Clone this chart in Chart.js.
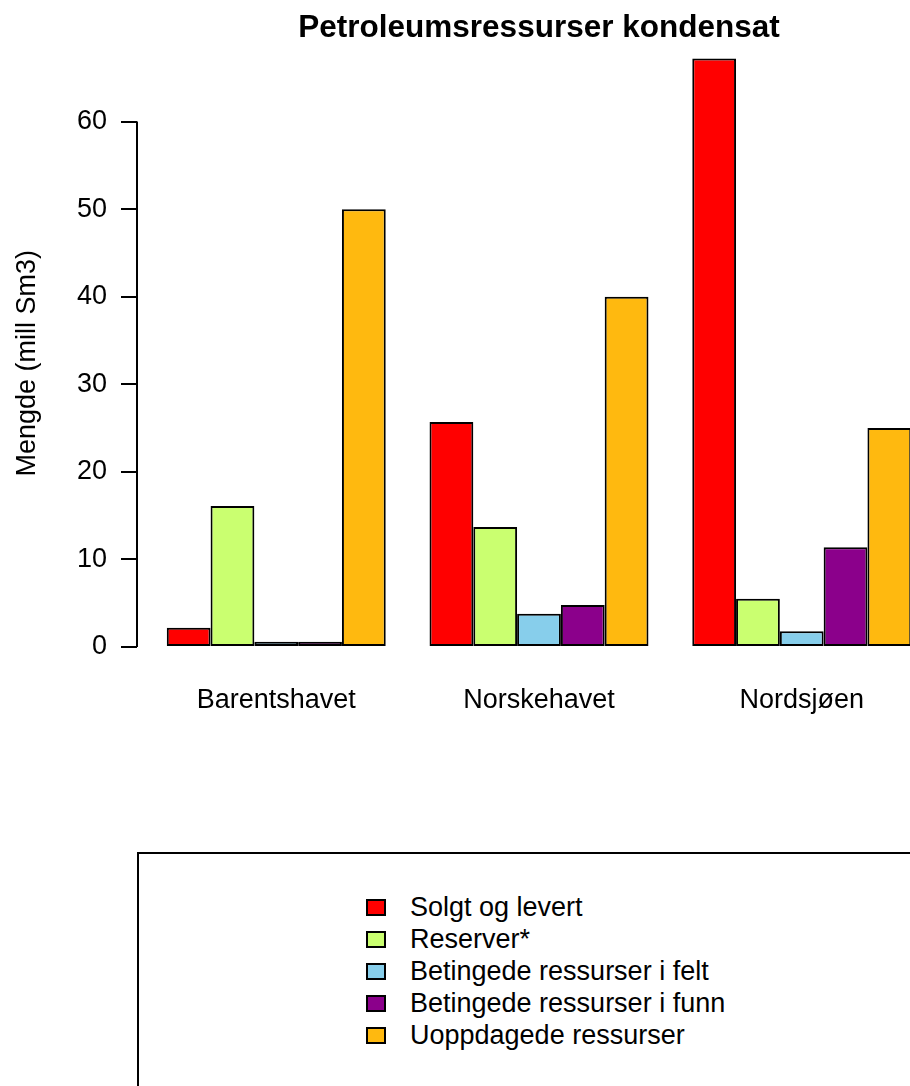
<!DOCTYPE html>
<html lang="no">
<head>
    <meta charset="UTF-8">
    <title>Petroleumsressurser kondensat</title>
    <script src="https://cdn.jsdelivr.net/npm/chart.js"></script>
    <style>
        body {
            margin: 0;
            width: 910px;
            height: 1086px;
            overflow: hidden;
            position: relative;
            background: #fff;
            font-family: "Liberation Sans", Arial, sans-serif;
        }

        /* the plot region runs past the right edge, like the original */
        #chartBox {
            position: absolute;
            left: 0;
            top: 0;
            width: 960px;
            height: 737px;
        }

        #legendBox {
            position: absolute;
            left: 137px;
            top: 852px;
            width: 900px;
            height: 300px;
            border: 2px solid #000;
            box-sizing: border-box;
        }

        #legendList {
            list-style: none;
            margin: 0;
            padding: 0;
            position: absolute;
            left: 227px;
            top: 37px;
        }

        #legendList li {
            display: flex;
            align-items: center;
            height: 32px;
            font-size: 27px;
            color: #000;
            white-space: nowrap;
        }

        #legendList .swatch {
            width: 20px;
            height: 17px;
            border: 2px solid #000;
            box-sizing: border-box;
            margin-right: 24px;
        }
    </style>
</head>
<body>

<div id="chartBox"><canvas id="chart"></canvas></div>
<div id="legendBox"><ul id="legendList"></ul></div>

<script>
    // data
    const regions = ["Barentshavet", "Norskehavet", "Nordsjøen"];
    const seriesNames = ["Solgt og levert", "Reserver*", "Betingede ressurser i felt", "Betingede ressurser i funn", "Uoppdagede ressurser"];
    const solgt = [2.2, 25.7, 67.2];
    const reserver = [16.1, 13.7, 5.5];
    const betingetFelt = [0.6, 3.8, 1.8];
    const betingetFunn = [0.6, 4.8, 11.4];
    const uoppdaget = [50, 40, 25];
    const yTicks = [0, 10, 20, 30, 40, 50, 60];

    const seriesColors = ["#FF0000", "#CAFF70", "#87CEEB", "#8B008B", "#FFB90F"];
    const font = { family: '"Liberation Sans", Arial, sans-serif', size: 27 };

    // R barplot layout: 5 bars of width 1 per group, 1 unit space before each group
    const groupCenter = i => 3.5 + 6 * i;

    const allSeries = [solgt, reserver, betingetFelt, betingetFunn, uoppdaget];
    const datasets = allSeries.map((vals, s) => ({
        label: seriesNames[s],
        data: vals.map((v, i) => ({ x: groupCenter(i), y: v })),
        backgroundColor: seriesColors[s],
        borderColor: "#000",
        borderWidth: 2,
        borderSkipped: false,
        categoryPercentage: 5 / 6,
        barPercentage: 1
    }));

    // y axis line only from first to last tick
    const axisLine = {
        id: "axisLine",
        afterDraw(chart) {
            const ctx = chart.ctx, y = chart.scales.y, x = chart.chartArea.left;
            ctx.save();
            ctx.strokeStyle = "#000";
            ctx.lineWidth = 2;
            ctx.beginPath();
            ctx.moveTo(x, y.getPixelForValue(yTicks[0]));
            ctx.lineTo(x, y.getPixelForValue(yTicks[yTicks.length - 1]));
            ctx.stroke();
            ctx.restore();
        }
    };

    const htmlLegend = {
        id: "htmlLegend",
        afterUpdate(chart) {
            const list = document.getElementById("legendList");
            list.innerHTML = "";
            chart.data.datasets.forEach(ds => {
                const li = document.createElement("li");
                const box = document.createElement("span");
                box.className = "swatch";
                box.style.background = ds.backgroundColor;
                li.appendChild(box);
                li.appendChild(document.createTextNode(ds.label));
                list.appendChild(li);
            });
        }
    };

    new Chart(document.getElementById("chart"), {
        type: "bar",
        data: { datasets: datasets },
        plugins: [axisLine, htmlLegend],
        options: {
            responsive: true,
            maintainAspectRatio: false,
            animation: false,
            layout: { padding: { top: 13, right: 19, bottom: 0, left: 0 } },
            plugins: {
                legend: { display: false },
                tooltip: { enabled: false },
                title: {
                    display: true,
                    text: "Petroleumsressurser kondensat",
                    fullSize: false,
                    color: "#000",
                    font: { family: font.family, size: 31.5, weight: "bold", lineHeight: 1 },
                    padding: { top: 0, bottom: 5 }
                }
            },
            scales: {
                x: {
                    type: "linear",
                    min: 0.32,
                    max: 18.68,
                    offset: false,
                    grid: { display: false, drawTicks: false },
                    border: { display: false },
                    afterBuildTicks: s => { s.ticks = regions.map((r, i) => ({ value: groupCenter(i) })); },
                    afterFit: s => { s.height = 60; },
                    ticks: {
                        autoSkip: false,
                        maxRotation: 0,
                        padding: 7,
                        color: "#000",
                        font: font,
                        callback: (v, i) => regions[i]
                    }
                },
                y: {
                    min: -3.4286,
                    max: 68.2286,
                    afterBuildTicks: s => { s.ticks = yTicks.map(v => ({ value: v })); },
                    afterFit: s => { s.width = 137; },
                    grid: { drawOnChartArea: false, tickLength: 16, color: "#000", lineWidth: 2 },
                    border: { display: false },
                    ticks: { padding: 14, color: "#000", font: font },
                    title: {
                        display: true,
                        text: "Mengde (mill Sm3)",
                        color: "#000",
                        font: font,
                        padding: { top: 11, bottom: 0 }
                    }
                }
            }
        }
    });
</script>

</body>
</html>
